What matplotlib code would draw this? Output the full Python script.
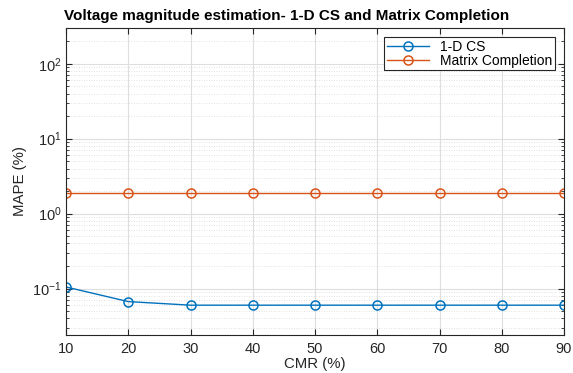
import numpy as np
import matplotlib
matplotlib.use("agg")
from matplotlib import pyplot as plt
from matplotlib.ticker import LogLocator, NullFormatter

plt.rcParams["font.family"] = ["Liberation Sans", "DejaVu Sans"]

cmr = [10, 20, 30, 40, 50, 60, 70, 80, 90]
mape1DCS = [0.105, 0.067, 0.06, 0.06, 0.06, 0.06, 0.06, 0.06, 0.06]
mapeMatrixCompletion = [1.9, 1.9, 1.9, 1.9, 1.9, 1.9, 1.9, 1.9, 1.9]
xTicks = [10, 20, 30, 40, 50, 60, 70, 80, 90]

fig = plt.figure(figsize=(5.73, 3.73), dpi=100)
ax = fig.add_axes([66/573, 1 - 335/373, 498/573, 307/373])

ax.plot(cmr, mape1DCS, color="#0072BD", marker="o", markersize=6.5,
        markerfacecolor="none", markeredgewidth=1.1, linewidth=1.0, label="1-D CS")
ax.plot(cmr, mapeMatrixCompletion, color="#D95319", marker="o", markersize=6.5,
        markerfacecolor="none", markeredgewidth=1.1, linewidth=1.0, label="Matrix Completion")

ax.set_yscale("log")
ax.set_xlim(10, 90)
ax.set_ylim(0.024, 300)
ax.set_xticks(xTicks)
ax.yaxis.set_major_locator(LogLocator(base=10, numticks=10))
ax.yaxis.set_minor_locator(LogLocator(base=10, subs=np.arange(2, 10), numticks=20))
ax.yaxis.set_minor_formatter(NullFormatter())

ax.grid(which="major", color="#dedede", linewidth=0.8, linestyle="-")
ax.grid(which="minor", axis="y", color="#d8d8d8", linewidth=0.6, linestyle=(0, (1, 2)))
ax.set_axisbelow(True)

ax.tick_params(which="both", direction="in", top=True, right=True,
               labelsize=10.5, colors="#262626", length=4)
ax.tick_params(which="minor", length=2.5)
ax.tick_params(axis="x", pad=5)
ax.tick_params(axis="y", pad=3)
for spine in ax.spines.values():
    spine.set_color("#262626")
    spine.set_linewidth(0.8)

ax.set_xlabel("CMR (%)", fontsize=10.8, color="#262626", labelpad=1)
ax.set_ylabel("MAPE (%)", fontsize=10.8, color="#262626", labelpad=4)
# title sits centred on the figure, not the axes
fig.text(287/573, 1 - 16/373, "Voltage magnitude estimation- 1-D CS and Matrix Completion",
         fontsize=11, fontweight="bold", ha="center", va="center")

leg = ax.legend(loc="upper right", bbox_to_anchor=(0.982, 0.971), fontsize=10,
                fancybox=False, framealpha=1, edgecolor="#262626",
                handlelength=3.0, handletextpad=0.8, borderpad=0.2,
                labelspacing=0.0, borderaxespad=0)
leg.get_frame().set_linewidth(0.8)

fig.savefig("out.png", dpi=100)
